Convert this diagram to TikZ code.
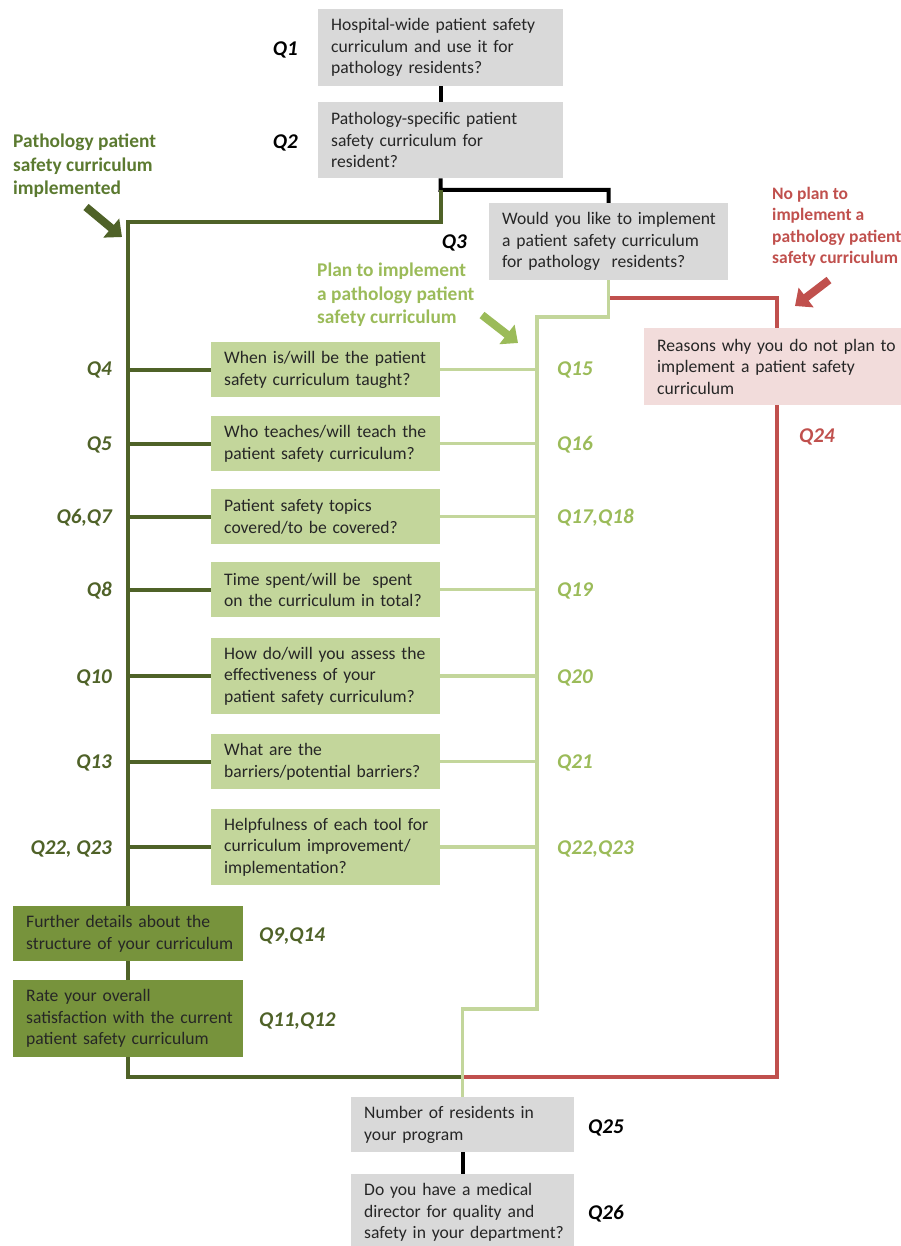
\documentclass[tikz,border=0pt]{standalone}
\usepackage{fontspec}
\setmainfont{Carlito}
\usetikzlibrary{arrows.meta,backgrounds}
\definecolor{impdark}{HTML}{4F6228}
\definecolor{impmid}{HTML}{77933C}
\definecolor{imptext}{HTML}{5B7A30}
\definecolor{planlight}{HTML}{C3D69B}
\definecolor{plantext}{HTML}{9BBB59}
\definecolor{nored}{HTML}{C0504D}
\definecolor{nopink}{HTML}{F2DCDB}
\definecolor{boxgray}{HTML}{D9D9D9}
\tikzset{qbox/.style={anchor=north west,inner xsep=0pt,inner ysep=0pt,align=left,text=black!85,font=\fontsize{17.6}{21.5}\selectfont,execute at begin node={\leftskip=13pt\relax}}}
\tikzset{askbox/.style={qbox,fill=boxgray,text width=245pt,minimum height=77pt}}
\tikzset{curbox/.style={qbox,fill=planlight,text width=229pt,minimum height=55pt}}
\tikzset{detbox/.style={qbox,fill=impmid,text width=230pt,minimum height=55pt}}
\tikzset{whybox/.style={qbox,fill=nopink,text width=266pt,minimum height=77pt}}
\tikzset{qnum/.style={inner sep=0pt,yshift=-4pt,font=\fontsize{21}{25}\selectfont\bfseries\itshape}}
\tikzset{impnum/.style={qnum,impdark,anchor=mid east}}
\tikzset{plannum/.style={qnum,plantext,anchor=mid west}}
\tikzset{headline/.style={anchor=north west,inner sep=0pt,align=left,font=\fontsize{19.4}{23.5}\selectfont\bfseries}}
\tikzset{askline/.style={draw=black,line width=4pt}}
\tikzset{impline/.style={draw=impdark,line width=4pt}}
\tikzset{planline/.style={draw=planlight,line width=3.5pt}}
\tikzset{noline/.style={draw=nored,line width=4pt}}
\tikzset{pointer/.style={line width=8pt,-{Triangle[length=14pt,width=24pt]}}}

\begin{document}
\begin{tikzpicture}[x=1pt,y=-1pt]
    \useasboundingbox (0,0) rectangle (901,1246);
    \node [askbox] (hospital) at (318,9) {Hospital-wide patient safety\\curriculum and use it for\\pathology residents?};
    \node [askbox,minimum height=76pt] (specific) at (318,102) {Pathology-specific patient\\safety curriculum for\\resident?};
    \node [askbox,text width=239pt] (wish) at (489,203) {Would you like to implement\\a patient safety curriculum\\for pathology~ residents?};
    \node [whybox] (reasons) at (644,328) {Reasons why you do not plan to\\implement a patient safety\\curriculum};
    \node [curbox] (taught) at (211,342) {When is/will be the patient\\safety curriculum taught?};
    \node [curbox] (teacher) at (211,416) {Who teaches/will teach the\\patient safety curriculum?};
    \node [curbox] (topics) at (211,489) {Patient safety topics\\covered/to be covered?};
    \node [curbox] (timespent) at (211,562) {Time spent/will be~ spent\\on the curriculum in total?};
    \node [curbox,minimum height=76pt] (assess) at (211,638) {How do/will you assess the\\effectiveness of your\\patient safety curriculum?};
    \node [curbox] (barriers) at (211,734) {What are the\\barriers/potential barriers?};
    \node [curbox,minimum height=76pt] (tools) at (211,809) {Helpfulness of each tool for\\curriculum improvement/\\implementation?};
    \node [detbox] (details) at (13,906) {Further details about the\\structure of your curriculum};
    \node [detbox,minimum height=77pt] (rating) at (13,980) {Rate your overall\\satisfaction with the current\\patient safety curriculum};
    \node [askbox,text width=223pt,minimum height=55pt] (residents) at (351,1097) {Number of residents in\\your program};
    \node [askbox,text width=223pt] (director) at (351,1174) {Do you have a medical\\director for quality and\\safety in your department?};
    \node [qnum,anchor=mid east] (q1) at (298,49) {Q1};
    \node [qnum,anchor=mid east] (q2) at (298,142) {Q2};
    \node [qnum,anchor=mid east] (q3) at (467,242) {Q3};
    \node [qnum,nored,anchor=mid west] (q24) at (799,436) {Q24};
    \node [impnum] (q4) at (112,369) {Q4};
    \node [impnum] (q5) at (112,444) {Q5};
    \node [impnum] (q6) at (112,517) {Q6,Q7};
    \node [impnum] (q8) at (112,590) {Q8};
    \node [impnum] (q10) at (112,677) {Q10};
    \node [impnum] (q13) at (112,762) {Q13};
    \node [impnum] (q22) at (112,848) {Q22, Q23};
    \node [plannum] (q15) at (557,369) {Q15};
    \node [plannum] (q16) at (557,444) {Q16};
    \node [plannum] (q17) at (557,517) {Q17,Q18};
    \node [plannum] (q19) at (557,590) {Q19};
    \node [plannum] (q20) at (557,677) {Q20};
    \node [plannum] (q21) at (557,762) {Q21};
    \node [plannum] (q22b) at (557,848) {Q22,Q23};
    \node [qnum,impdark,anchor=mid west] (q9) at (259,935) {Q9,Q14};
    \node [qnum,impdark,anchor=mid west] (q11) at (259,1020) {Q11,Q12};
    \node [qnum,anchor=mid west] (q25) at (588,1127) {Q25};
    \node [qnum,anchor=mid west] (q26) at (588,1213) {Q26};
    \node [headline,imptext] (implemented) at (13,134) {Pathology patient\\safety curriculum\\implemented};
    \node [headline,plantext] (planned) at (317,263) {Plan to implement\\a pathology patient\\safety curriculum};
    \node [headline,nored,font=\fontsize{17.5}{21.5}\selectfont\bfseries] (unplanned) at (772,187) {No plan to\\implement a\\pathology patient\\safety curriculum};
    \draw [pointer,impdark] (86,207) -- (122,237);
    \draw [pointer,plantext] (482,315) -- (518,343);
    \draw [pointer,nored] (829,280) -- (795,306);
    \begin{scope}[on background layer]
        \coordinate (fork) at (440.5,190);
        \coordinate (nofork) at (608.5,298);
        \coordinate (join) at (462.5,1077);
        \draw [askline] (hospital) -- (specific);
        \draw [askline] (specific.south) -- (fork) -| (wish.north);
        \draw [askline] (residents) -- (director);
        \draw [impline] (fork) -- (440.5,222) -| (128,1077) -- (join);
        \draw [impline] (taught.west) -- (taught.west -| 128,0);
        \draw [impline] (teacher.west) -- (teacher.west -| 128,0);
        \draw [impline] (topics.west) -- (topics.west -| 128,0);
        \draw [impline] (timespent.west) -- (timespent.west -| 128,0);
        \draw [impline] (assess.west) -- (assess.west -| 128,0);
        \draw [impline] (barriers.west) -- (barriers.west -| 128,0);
        \draw [impline] (tools.west) -- (tools.west -| 128,0);
        \draw [noline] (nofork) -| (reasons.north);
        \draw [noline] (reasons.south) |- (join);
        \draw [planline] (wish.south) |- (537,317) |- (residents.north |- 0,1009) -- (residents.north);
        \draw [planline] (taught.east) -- (taught.east -| 537,0);
        \draw [planline] (teacher.east) -- (teacher.east -| 537,0);
        \draw [planline] (topics.east) -- (topics.east -| 537,0);
        \draw [planline] (timespent.east) -- (timespent.east -| 537,0);
        \draw [planline] (assess.east) -- (assess.east -| 537,0);
        \draw [planline] (barriers.east) -- (barriers.east -| 537,0);
        \draw [planline] (tools.east) -- (tools.east -| 537,0);
    \end{scope}
\end{tikzpicture}
\end{document}
